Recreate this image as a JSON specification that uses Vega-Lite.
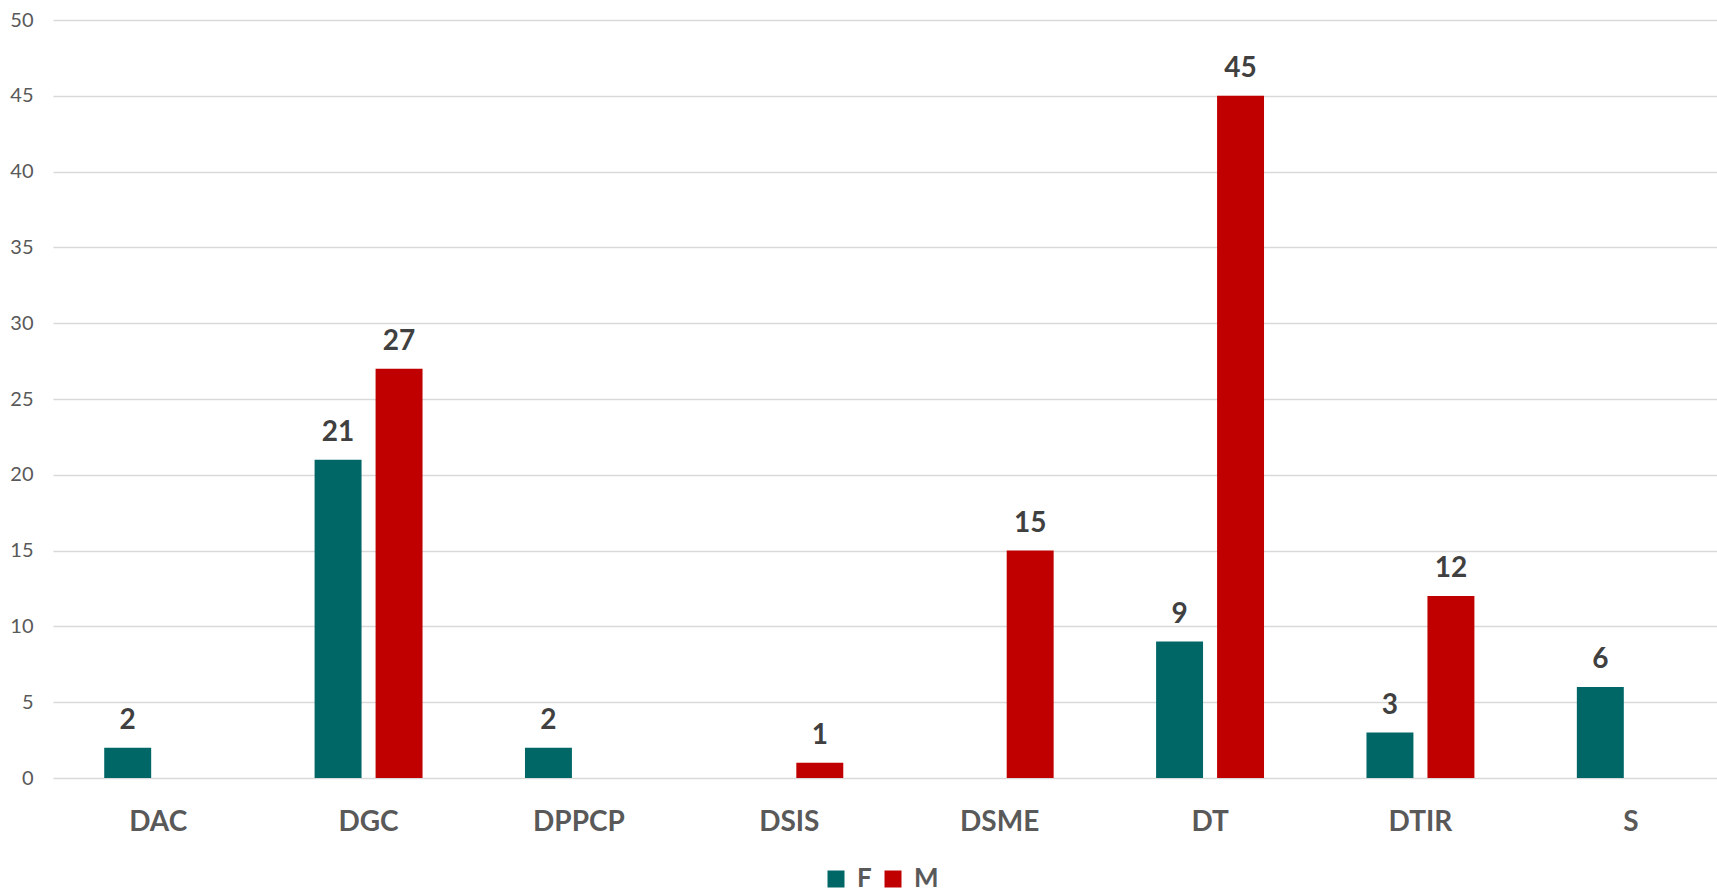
{
  "$schema": "https://vega.github.io/schema/vega-lite/v6.json",
  "autosize": {"type": "none"},
  "width": 1664,
  "height": 758,
  "padding": {"left": 53, "top": 20, "right": 0, "bottom": 115},
  "background": "white",
  "config": {"view": {"stroke": null}, "font": "Lato"},
  "data": {
    "values": [
      {"dept": "DAC", "sexe": "F", "n": 2},
      {"dept": "DGC", "sexe": "F", "n": 21},
      {"dept": "DGC", "sexe": "M", "n": 27},
      {"dept": "DPPCP", "sexe": "F", "n": 2},
      {"dept": "DSIS", "sexe": "M", "n": 1},
      {"dept": "DSME", "sexe": "M", "n": 15},
      {"dept": "DT", "sexe": "F", "n": 9},
      {"dept": "DT", "sexe": "M", "n": 45},
      {"dept": "DTIR", "sexe": "F", "n": 3},
      {"dept": "DTIR", "sexe": "M", "n": 12},
      {"dept": "S", "sexe": "F", "n": 6}
    ]
  },
  "encoding": {
    "x": {
      "field": "dept",
      "type": "nominal",
      "sort": ["DAC", "DGC", "DPPCP", "DSIS", "DSME", "DT", "DTIR", "S"],
      "scale": {"range": [0, 1683], "paddingInner": 0, "paddingOuter": 0},
      "axis": {
        "title": null,
        "domain": false,
        "ticks": false,
        "grid": false,
        "labelAngle": 0,
        "labelFontSize": 28,
        "labelFontWeight": "bold",
        "labelColor": "#595959",
        "labelPadding": 30
      }
    },
    "xOffset": {
      "field": "sexe",
      "type": "nominal",
      "scale": {"domain": ["F", "M"], "paddingInner": 0.23, "paddingOuter": 0.84}
    },
    "y": {
      "field": "n",
      "type": "quantitative",
      "scale": {"domain": [0, 50]},
      "axis": {
        "title": null,
        "values": [0, 5, 10, 15, 20, 25, 30, 35, 40, 45, 50],
        "domain": false,
        "ticks": false,
        "grid": true,
        "gridColor": "#d9d9d9",
        "gridWidth": 1.5,
        "labelFontSize": 20,
        "labelColor": "#595959",
        "labelPadding": 20
      }
    }
  },
  "layer": [
    {
      "mark": {"type": "bar"},
      "encoding": {
        "color": {
          "field": "sexe",
          "type": "nominal",
          "scale": {"domain": ["F", "M"], "range": ["#006666", "#C00000"]},
          "legend": {
            "title": null,
            "orient": "none",
            "legendX": 770,
            "legendY": 846,
            "padding": 0,
            "direction": "horizontal",
            "symbolType": "square",
            "symbolSize": 289,
            "symbolStrokeWidth": 0,
            "labelFontSize": 26,
            "labelFontWeight": "bold",
            "labelColor": "#595959",
            "labelOffset": 8,
            "columnPadding": 8
          }
        }
      }
    },
    {
      "mark": {
        "type": "text",
        "dy": -19,
        "fontSize": 28,
        "fontWeight": "bold",
        "color": "#404040",
        "baseline": "alphabetic"
      },
      "encoding": {"text": {"field": "n", "type": "quantitative"}}
    }
  ]
}
